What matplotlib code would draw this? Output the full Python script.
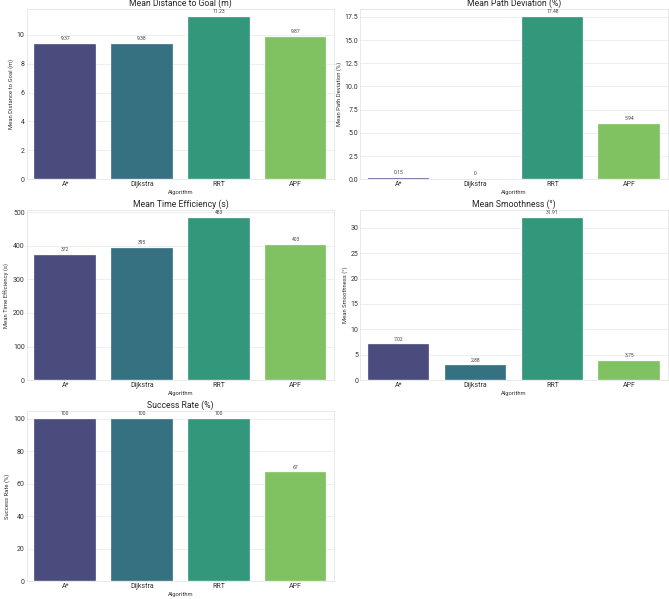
import matplotlib
matplotlib.use("Agg")
import matplotlib.pyplot as plt
import seaborn as sns
import pandas as pd

algorithms = ["A*", "Dijkstra", "RRT", "APF"]
distance = [9.37, 9.38, 11.23, 9.87]
deviation = [0.15, 0, 17.48, 5.94]
time_eff = [372, 395, 483, 403]
smoothness = [7.02, 2.88, 31.91, 3.75]
success = [100, 100, 100, 67]

metrics = [
    ("Mean Distance to Goal (m)", "Mean Distance to Goal (m)", distance),
    ("Mean Path Deviation (%)", "Mean Path Deviation (%)", deviation),
    ("Mean Time Efficiency (s)", "Mean Time Efficiency (s)", time_eff),
    ("Mean Smoothness (°)", "Mean Smoothness (°)", smoothness),
    ("Success Rate (%)", "Success Rate (%)", success),
]

sns.set_theme(style="whitegrid")
plt.rcParams['font.family'] = ['Roboto', 'DejaVu Sans']

fig, axes = plt.subplots(3, 2, figsize=(6.69, 5.99), dpi=100)
axes = axes.flatten()

for ax, (title, ylabel, vals) in zip(axes, metrics):
    df = pd.DataFrame({"Algorithm": algorithms, "Value": vals})
    sns.barplot(data=df, x="Algorithm", y="Value", hue="Algorithm",
                palette="viridis", legend=False, ax=ax,
                edgecolor="#f0f0f0", linewidth=0.25)
    ax.set_title(title, fontsize=6.2, pad=2, color="#262626")
    ax.set_ylabel(ylabel, fontsize=4.2, labelpad=2, color="#333333")
    ax.set_xlabel("Algorithm", fontsize=4.2, labelpad=1, color="#333333")
    ax.tick_params(axis="both", labelsize=5, pad=1.5, length=0, labelcolor="#333333")
    for spine in ax.spines.values():
        spine.set_linewidth(0.5)
        spine.set_color("#e0e0e0")
    ax.grid(True, axis="y", linewidth=0.6, color="#ebebeb")
    for c in ax.containers:
        ax.bar_label(c, fmt="%g", fontsize=3.6, padding=2, color="#444444")

fig.delaxes(axes[5])
fig.subplots_adjust(left=0.04, right=0.998, top=0.985, bottom=0.03,
                    wspace=0.085, hspace=0.18)
fig.savefig("out.png", dpi=100)
